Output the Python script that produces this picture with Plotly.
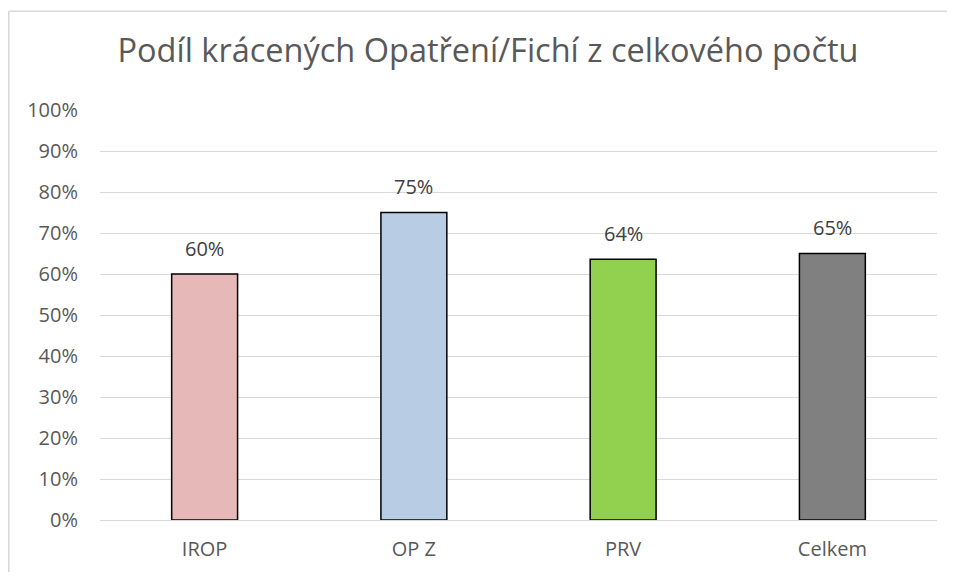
import plotly.graph_objects as go

categories = ["IROP", "OP Z", "PRV", "Celkem"]
values = [0.60, 0.75, 0.636, 0.65]
colors = ["#E6B8B7", "#B8CCE4", "#92D050", "#808080"]
tick_vals = [i / 10 for i in range(11)]
tick_text = [f"{i*10}%" for i in range(11)]
title_text = "Podíl krácených Opatření/Fichí z celkového počtu"

FONT = "Open Sans, Liberation Sans, sans-serif"

# The page body has an 8px margin, so the figure is sized to fit inside the window
# without causing scrollbars.
W, H = 939, 564
L, R, T, B = 92, 10, 102, 49
pw, ph = W - L - R, H - T - B

fig = go.Figure()
fig.add_trace(go.Bar(
    x=categories, y=values,
    marker=dict(color=colors, line=dict(color="#000000", width=1.5)),
    width=0.315,
    hoverinfo="x+y",
))

for c, v in zip(categories, values):
    fig.add_annotation(x=c, y=v, text=f"{round(v*100)}%", showarrow=False,
                       yshift=26, font=dict(family=FONT, size=20, color="#404040"))


def px(xp):
    return (xp - L) / pw


def py(yp):
    return (H - T - B - (yp - T)) / ph


border = dict(color="#D9D9D9", width=1.6)
# top edge of the chart frame
fig.add_shape(type="line", xref="paper", yref="paper",
              x0=px(0.8), x1=px(W + 40), y0=py(2.5), y1=py(2.5), line=border, layer="below")
# left edge of the chart frame
fig.add_shape(type="line", xref="paper", yref="paper",
              x0=px(0.8), x1=px(0.8), y0=py(2.5), y1=py(H + 40), line=border, layer="below")

fig.update_layout(
    width=W, height=H,
    margin=dict(l=L, r=R, t=T, b=B),
    paper_bgcolor="white", plot_bgcolor="white",
    title=dict(text=title_text, x=480 / W, xref="container", y=1 - 43 / H, yref="container",
               yanchor="middle", xanchor="center",
               font=dict(family=FONT, size=32.5, color="#595959")),
    showlegend=False,
    xaxis=dict(tickfont=dict(family=FONT, size=20, color="#595959"), showgrid=False,
               showline=False, ticks="", ticklabelstandoff=15),
    yaxis=dict(range=[0, 1], tickvals=tick_vals, ticktext=tick_text,
               tickfont=dict(family=FONT, size=20, color="#595959"),
               showgrid=True, gridcolor="#D9D9D9", gridwidth=1,
               zeroline=True, zerolinecolor="#D9D9D9", zerolinewidth=1,
               showline=False, ticks="", ticklabelstandoff=21),
)

fig.write_html("out.html", config={"displayModeBar": False})
